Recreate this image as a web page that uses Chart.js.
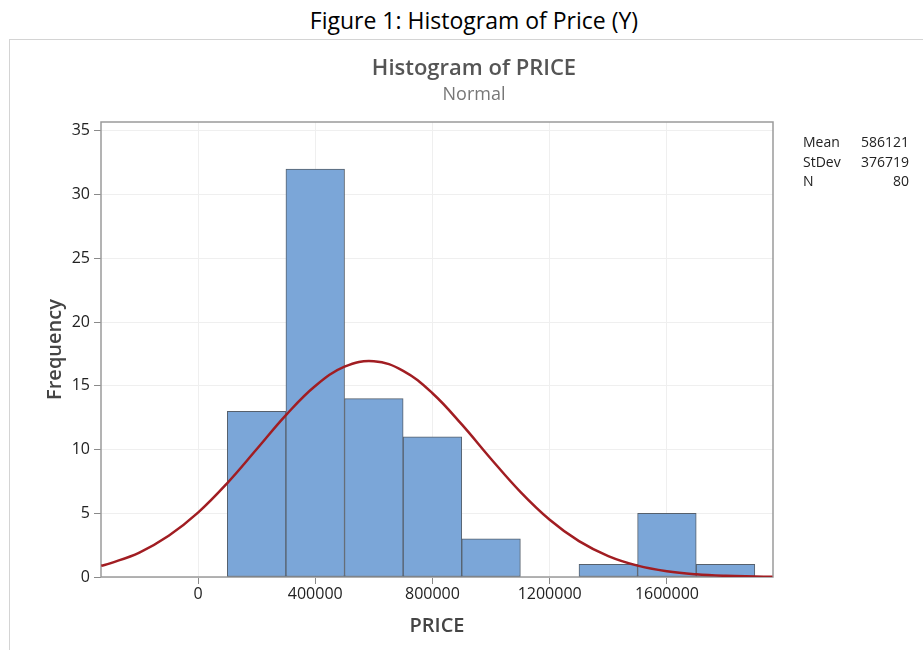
<!DOCTYPE html>
<html>
<head>
    <title>Histogram of PRICE</title>
    <style>
        body { margin: 0; background: #fff; width: 923px; height: 650px; overflow: hidden; position: relative; }
        #caption { position: absolute; left: 0; top: 5px; width: 948px; text-align: center; font: 400 23px "Open Sans", sans-serif; line-height: 30px; color: #000; }
        #frame { position: absolute; left: 9px; top: 39px; width: 1000px; height: 700px; border: 1px solid #d4d4d4; }
        #myChart { position: absolute; left: 0; top: 0; }
        #stats { position: absolute; left: 803px; top: 132px; width: 106px; border-collapse: collapse; font: 14px "Open Sans", sans-serif; color: #222; }
        #stats td { padding: 0; line-height: 19.5px; }
        #stats td.v { text-align: right; }
    </style>
</head>
<body>
    <div id="caption">Figure 1: Histogram of Price (Y)</div>
    <div id="frame"></div>
    <canvas id="myChart" width="923" height="650"></canvas>
    <table id="stats"></table>
    <script src="https://cdn.jsdelivr.net/npm/chart.js@4"></script>

    <script type="text/javascript">
        // histogram bins (bin centres, width 200000) and counts
        const binCenters = [200000, 400000, 600000, 800000, 1000000, 1200000, 1400000, 1600000, 1800000];
        const counts = [13, 32, 14, 11, 3, 0, 1, 5, 1];

        // fitted normal curve
        const curveX = [-330000, -300000, -200000, -100000, 0, 100000, 200000, 300000, 400000, 500000,
            600000, 700000, 800000, 900000, 1000000, 1100000, 1200000, 1300000, 1400000, 1500000,
            1600000, 1700000, 1800000, 1900000, 1960000];
        const curveY = [0.88, 1.07, 1.92, 3.23, 5.05, 7.37, 10.02, 12.70, 14.99, 16.50,
            16.93, 16.18, 14.42, 11.97, 9.26, 6.68, 4.49, 2.81, 1.64, 0.89,
            0.45, 0.21, 0.09, 0.04, 0.02];

        const xTicks = [0, 400000, 800000, 1200000, 1600000];
        const yTicks = [0, 5, 10, 15, 20, 25, 30, 35];

        const statLabels = ['Mean', 'StDev', 'N'];
        const statValues = ['586121', '376719', '80'];

        let rows = '';
        for (let i = 0; i < statLabels.length; i++) {
            rows += '<tr><td>' + statLabels[i] + '</td><td class="v">' + statValues[i] + '</td></tr>';
        }
        document.getElementById('stats').innerHTML = rows;

        const tickFont = { family: 'Open Sans', size: 16 };

        const plotFrame = {
            id: 'plotFrame',
            beforeDatasetsDraw(chart) {
                const a = chart.chartArea;
                const ctx = chart.ctx;
                ctx.save();
                ctx.strokeStyle = '#9a9a9a';
                ctx.lineWidth = 1.5;
                ctx.strokeRect(a.left, a.top, a.right - a.left, a.bottom - a.top);
                ctx.restore();
            }
        };

        var ctx = document.getElementById('myChart').getContext('2d');
        var myChart = new Chart(ctx, {
            type: 'bar',
            data: {
                datasets: [{
                    type: 'line',
                    data: curveX.map((x, i) => ({ x: x, y: curveY[i] })),
                    borderColor: '#a11d22',
                    borderWidth: 2.5,
                    pointRadius: 0,
                    tension: 0.4,
                    fill: false,
                    order: 0
                }, {
                    data: binCenters.map((x, i) => ({ x: x, y: counts[i] })),
                    backgroundColor: '#7ba6d8',
                    borderColor: '#56606c',
                    borderWidth: 1,
                    borderSkipped: false,
                    barPercentage: 1,
                    categoryPercentage: 1,
                    order: 1
                }]
            },
            options: {
                responsive: false,
                animation: false,
                devicePixelRatio: 1,
                layout: { padding: { top: 44, left: 25, right: 0, bottom: 0 } },
                plugins: {
                    legend: { display: false },
                    tooltip: { enabled: false },
                    title: {
                        display: true,
                        text: 'Histogram of PRICE',
                        color: '#555',
                        font: { family: 'Open Sans', size: 22, weight: 600 },
                        padding: { top: 12, bottom: 1 }
                    },
                    subtitle: {
                        display: true,
                        text: 'Normal',
                        color: '#777',
                        font: { family: 'Open Sans', size: 18, weight: 'normal' },
                        padding: { top: 1, bottom: 16 }
                    }
                },
                scales: {
                    x: {
                        type: 'linear',
                        offset: false,
                        min: -331000,
                        max: 1962000,
                        afterBuildTicks: s => { s.ticks = xTicks.map(v => ({ value: v })); },
                        afterFit: s => { s.height = 73; },
                        ticks: { color: '#222', font: tickFont, padding: 1, maxRotation: 0, callback: v => String(v) },
                        grid: { offset: false, color: '#efefef', tickColor: '#8a8a8a', tickLength: 7 },
                        border: { display: false },
                        title: {
                            display: true,
                            text: 'PRICE',
                            color: '#444',
                            font: { family: 'Open Sans', size: 20, weight: 600 },
                            padding: { top: 0, bottom: 12 }
                        }
                    },
                    y: {
                        min: 0,
                        max: 35.7,
                        afterBuildTicks: s => { s.ticks = yTicks.map(v => ({ value: v })); },
                        afterFit: s => { s.width = 76; },
                        ticks: { color: '#222', font: tickFont, padding: 4 },
                        grid: { color: '#efefef', tickColor: '#8a8a8a', tickLength: 7 },
                        border: { display: false },
                        title: {
                            display: true,
                            text: 'Frequency',
                            color: '#444',
                            font: { family: 'Open Sans', size: 20, weight: 600 },
                            padding: { top: 18, bottom: 0 }
                        }
                    },
                    y2: {
                        position: 'right',
                        display: true,
                        grid: { display: false, drawTicks: false },
                        ticks: { display: false },
                        border: { display: false },
                        afterFit: s => { s.width = 150; }
                    }
                }
            },
            plugins: [plotFrame]
        });
    </script>
</body>
</html>
